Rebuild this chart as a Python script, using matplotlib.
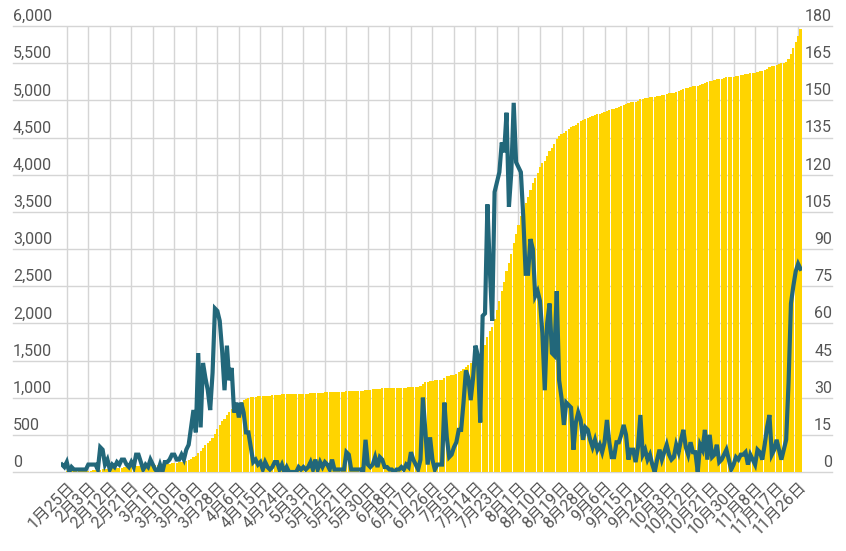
import numpy as np
import pandas as pd
import matplotlib
matplotlib.use("Agg")
import matplotlib.pyplot as plt
from matplotlib import transforms

plt.rcParams['font.family'] = ['Roboto', 'Noto Sans CJK JP', 'DejaVu Sans']

# daily new cases, 2020-01-23 .. 2020-11-27 (right axis, line)
daily = [3,2,4,0,2,1,1,1,1,1, 1,3,3,3,3,1,10,9,3,5, 1,3,2,4,3,5,5,3,2,4,
         2,7,7,4,1,3,2,5,3,1, 0,3,0,4,4,5,7,7,5,5, 7,5,9,
         11,18,25,16,48,18,44,38,33,25, 40,66,65,61,49,33,51,37,42,24,
         28,22,28,24,16,16,10,4,5,3, 4,1,4,2,1,2,4,4,1,3, 0,2,0,0,0,0,2,
         1,2,1,2,4,1,5,1,4,2, 4,3,1,5,1,1,1,1,1,8, 7,1,1,1,1,1,0,13,3,2,
         3,6,2,6,5,2,2,1,1,0, 1,1,2,1,3,2,8,5,3,1,
         5,30,17,3,14,5,1,3,3,3, 28,14,6,7,10,12,17,17,28,41,
         38,29,38,51,47,20,63,64,108,82, 61,113,117,121,133,129,145,107,121,149,
         125,123,121,103,80,80,94,90,71,73, 69,56,33,60,68,48,47,73,
         37,30,19,28,27,26,9,20,24,21, 13,18,17,13,10,13,9,11,8,12,
         21,12,6,6,12,12,15,19,15,5, 9,9,4,10,23,7,9,5,7,3,
         0,5,9,5,8,11,7,5,6,11, 8,13,17,10,7,12,8,8,0,
         11,9,17,5,15,6,7,11,4,5, 7,9,5,1,3,6,5,7,7,8,
         3,7,5,3,9,8,5,11,18,23, 7,9,13,9,5,9,13,36,68,75, 81,84,82]

# cumulative cases (left axis, bars)
cumulative = [2,4,7,7,9,10,10,11,12,13,14,16,18,21,23,24,
              32,39,42,46,46,49,50,54,56,60,64,66,68,71,73,78,
              84,87,88,91,92,96,99,99,99,102,102,105,108,112,118,123,
              127,131,137,141,148,157,174,199,214,260,278,320,357,389,413,452,
              516,578,637,685,717,766,802,842,865,892,914,941,964,979,995,1005,
              1008,1013,1016,1020,1021,1026,1028,1029,1031,1036,1040,1041,1044,1044,1047,1047,
              1047,1047,1047,1049,1050,1052,1052,1054,1057,1058,1061,1062,1065,1067,1070,1072,
              1073,1076,1077,1078,1079,1079,1080,1086,1091,1092,1093,1094,1094,1095,1095,1105,
              1107,1109,1111,1115,1117,1121,1125,1127,1128,1129,1130,1130,1130,1131,1133,1133,
              1136,1137,1143,1147,1149,1150,1155,1188,1206,1209,1224,1230,1231,1234,1237,1240,
              1271,1286,1292,1300,1310,1323,1342,1360,1382,1414,1444,1467,1497,1537,1575,1590,
              1640,1703,1810,1892,1952,2064,2180,2300,2432,2560,2703,2810,2929,3077,3201,3323,
              3443,3545,3624,3703,3797,3886,3956,4029,4097,4152,4185,4245,4312,4360,4406,4479,
              4515,4545,4564,4592,4618,4644,4653,4673,4697,4717,4730,4748,4765,4778,4788,4801,
              4810,4820,4828,4840,4861,4873,4879,4885,4897,4909,4924,4942,4957,4962,4971,4980,
              4984,4994,5017,5024,5033,5038,5044,5047,5047,5052,5061,5066,5074,5085,5092,5097,
              5103,5114,5122,5135,5151,5161,5168,5180,5188,5196,5196,5207,5217,5235,5240,5256,
              5262,5270,5282,5286,5291,5299,5308,5313,5315,5318,5324,5329,5337,5344,5353,5356,
              5364,5369,5372,5382,5390,5395,5407,5426,5451,5458,5468,5482,5491,5497,5506,5520,
              5557,5626,5703,5785,5871,5955]

dates = pd.date_range('2020-01-23', periods=len(daily), freq='D')
left_ticks = list(range(0, 6001, 500))
right_ticks = list(range(0, 181, 15))

yellow = '#FFD400'
teal = '#22677A'
grid = '#d5d5d5'
txt = '#555555'

fig = plt.figure(figsize=(8.46, 5.51), dpi=100)
ax = fig.add_axes([60.8 / 846, 79 / 551, 740.9 / 846, 446 / 551])
x = np.arange(len(daily))

ax.bar(x, cumulative, width=0.9, color=yellow, linewidth=0, zorder=2)
ax.set_xlim(-0.5, len(daily) - 0.5)
ax.set_ylim(0, 6000)

ax2 = ax.twinx()
ax2.plot(x, daily, color=teal, lw=3, solid_joinstyle='miter', zorder=3)
ax2.set_ylim(0, 180)

for a in (ax, ax2):
    for s in a.spines.values():
        s.set_visible(False)
    a.set_yticks([])

# horizontal grid across the whole width, labels sit above the lines
gl, gr = -0.0645, 1.041
for v in left_ticks:
    ax.axhline(v, xmin=gl, xmax=gr, color=grid, lw=1, clip_on=False, zorder=0)
tl = transforms.offset_copy(ax.get_yaxis_transform(), fig=fig, x=0, y=5, units='dots')
for v in left_ticks:
    ax.text(gl, v, f'{v:,}', transform=tl, ha='left', va='baseline',
            fontsize=11.5, color=txt)
tr = transforms.offset_copy(ax2.get_yaxis_transform(), fig=fig, x=0, y=5, units='dots')
for v in right_ticks:
    ax2.text(gr, v, str(v), transform=tr, ha='right', va='baseline',
             fontsize=11.5, color=txt)

# x ticks every 9 days from 1/25
tick_pos = list(range(2, len(daily), 9))
tick_labels = [f'{dates[i].month}月{dates[i].day}日' for i in tick_pos]
for t in tick_pos:
    ax.axvline(t, color=grid, lw=1, zorder=0)
ax.set_xticks(tick_pos)
ax.set_xticklabels(tick_labels, rotation=45, ha='right', rotation_mode='anchor',
                   fontsize=11.5, color=txt)
ax.tick_params(axis='x', length=0, pad=5)

fig.savefig('out.png', dpi=100)
